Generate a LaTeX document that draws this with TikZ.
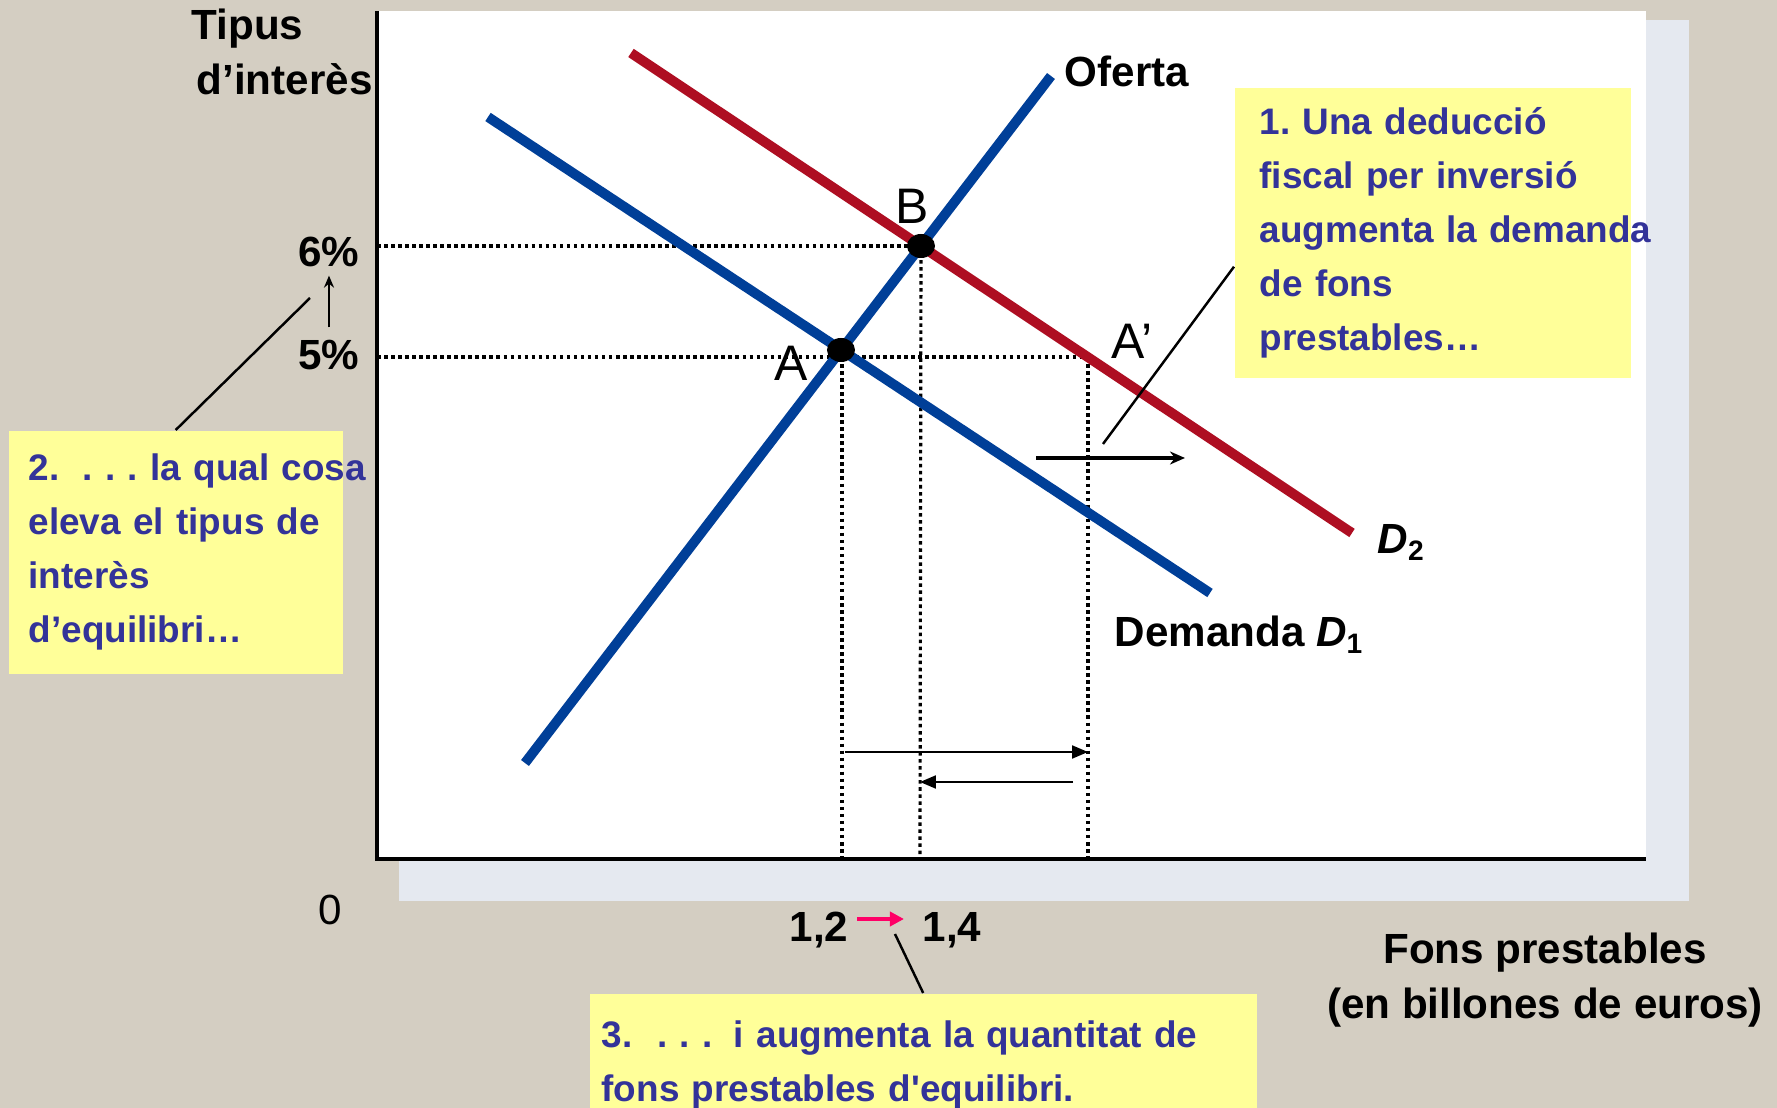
\documentclass[tikz,border=0pt]{standalone}
\usepackage{fontspec}
\setmainfont{Liberation Sans}[Ligatures=TeXOff]
\usepackage{xcolor}
\usetikzlibrary{arrows.meta,positioning,calc}

\definecolor{bgtan}{RGB}{212,206,194}
\definecolor{shadowgrey}{RGB}{229,233,240}
\definecolor{curveblue}{RGB}{0,63,152}
\definecolor{curvered}{RGB}{174,14,34}
\definecolor{notefill}{RGB}{255,255,153}
\definecolor{notetext}{RGB}{51,51,153}
\definecolor{shiftpink}{RGB}{255,0,102}

\begin{document}
\frenchspacing
\begin{tikzpicture}[
    curve/.style={line width=2.8pt},
    axisline/.style={line width=0.9pt},
    guide/.style={line width=0.9pt, dash pattern=on 1pt off 1pt},
    axislabel/.style={font=\fontsize{12}{15.6}\selectfont\bfseries, 
        inner sep=0pt},
    pointlabel/.style={font=\fontsize{14.2}{17}\selectfont, inner sep=0pt},
    note/.style={fill=notefill, text=notetext, align=left, anchor=north west,
        font=\fontsize{10.5}{15.35}\selectfont\bfseries},
    arr/.style={-{Triangle[length=0.16cm, width=0.13cm]}, line width=0.6pt},
    shiftarr/.style={-{Stealth[length=0.15cm, width=0.13cm]}, line width=0.9pt},
    callout/.style={line width=0.7pt},
]

% ── Canvas ──
\useasboundingbox (-3.77,-2.49) rectangle (14.00,8.59);
\fill[bgtan] (-3.77,-2.49) rectangle (14.00,8.59);
\fill[shadowgrey] (0.22,-0.42) rectangle (13.12,8.39);
\fill[white] (0,0) rectangle (12.69,8.48);

% ── Points of the market ──
\coordinate (s0) at (1.48,0.96);
\coordinate (s1) at (6.74,7.83);
\coordinate (d1a) at (1.11,7.42);
\coordinate (d1b) at (8.33,2.66);
\coordinate (d2a) at (2.54,8.06);
\coordinate (d2b) at (9.75,3.26);
\coordinate (A) at (4.64,5.09);
\coordinate (B) at (5.44,6.13);
\coordinate (Ap) at (7.11,5.02);
\coordinate (qa) at (4.65,0);
\coordinate (qb) at (5.43,0);
\coordinate (qc) at (7.11,0);

% ── Guides ──
\draw[guide] (0,6.13) -- (B);
\draw[guide] (0,5.02) -- (Ap);
\draw[guide] (qa |- Ap) -- (qa);
\draw[guide] (B) -- (qb);
\draw[guide] (Ap) -- (qc);

% ── Curves ──
\draw[curve, curveblue] (d1a) -- (d1b);
\draw[curve, curvered] (d2a) -- (d2b);
\draw[curve, curveblue] (s0) -- (s1);
\fill (A) ellipse (0.14 and 0.12);
\fill (B) ellipse (0.14 and 0.12);

% ── Axes ──
\draw[axisline] (0,8.48) -- (0,0) -- (12.69,0);

% ── Curve and point labels ──
\node[axislabel, anchor=base west] (oferta) at (6.87,7.72) {Oferta};
\node[axislabel, anchor=base west] (dem1) at (7.37,2.12) 
    {Demanda {\itshape D}\textsubscript{1}};
\node[axislabel, anchor=base west] (dem2) at (10.00,3.05) 
    {{\itshape D}\textsubscript{2}};
\node[pointlabel] (Alabel) at (4.14,4.96) {A};
\node[pointlabel] (Blabel) at (5.35,6.53) {B};
\node[pointlabel] (Aplabel) at (7.55,5.18) {A’};

% ── Axis labels ──
\node[axislabel, anchor=north west, align=left] (ylab) at (-1.86,8.51) 
    {Tipus\\\hspace{0.05cm}d’interès};
\node[axislabel, anchor=north, align=center] (xlab) at (11.68,-0.73) 
    {Fons prestables\\(en billones de euros)};
\node[axislabel] (six) at (-0.48,6.07) {6\%};
\node[axislabel] (five) at (-0.48,5.04) {5\%};
\node[axislabel, font=\fontsize{12}{15.6}\selectfont] (zero) at (-0.47,-0.51) {0};
\node[axislabel] (q12) at (4.42,-0.71) {1,2};
\node[axislabel] (q14) at (5.75,-0.71) {1,4};

% ── Arrows ──
\draw[-{Stealth[length=0.12cm, width=0.1cm]}, line width=0.6pt, 
    shorten <=0.12cm, shorten >=0.08cm] (five) -- (six);
\draw[arr, shorten <=0.03cm] ([yshift=1.07cm]qa) -- ([yshift=1.07cm]qc);
\draw[arr, shorten <=0.15cm] ([yshift=0.77cm]qc) -- ([yshift=0.77cm]qb);
\draw[shiftarr] (6.59,4.01) -- (8.08,4.01);
\draw[-{Triangle[length=0.14cm, width=0.14cm]}, line width=1.1pt, shiftpink,
    shorten <=0.08cm, shorten >=0.18cm] 
    ([yshift=0.11cm]q12.east) -- ([yshift=0.11cm]q14.west);

% ── Notes ──
\node[note, text width=3.46cm, inner xsep=0.25cm, minimum height=2.90cm] 
    (fiscal) at (8.57,7.72) 
    {1. Una deducció\\fiscal per inversió\\\mbox{augmenta la demanda}\\de fons\\prestables…};
\node[note, text width=2.94cm, inner xsep=0.20cm, minimum height=2.43cm] 
    (rise) at (-3.69,4.29) 
    {\mbox{2.~\hspace{0.3em}.~.~.~la qual cosa}\\eleva el tipus de\\interès\\d’equilibri…};
\node[note, text width=6.43cm, inner xsep=0.12cm, inner ysep=0.27cm] 
    (quantity) at (2.12,-1.34) 
    {3.~~.~.~.~\hspace{0.25em}i augmenta la quantitat de\\fons prestables d'equilibri.};

\coordinate (shiftpt) at (7.26,4.15);
\coordinate (ratept) at (-0.67,5.61);
\coordinate (qpt) at (5.18,-0.75);
\draw[callout] (shiftpt) -- ([yshift=-0.34cm]fiscal.west);
\draw[callout] (rise.north) -- (ratept);
\draw[callout] (quantity.north) -- (qpt);

\end{tikzpicture}
\end{document}
